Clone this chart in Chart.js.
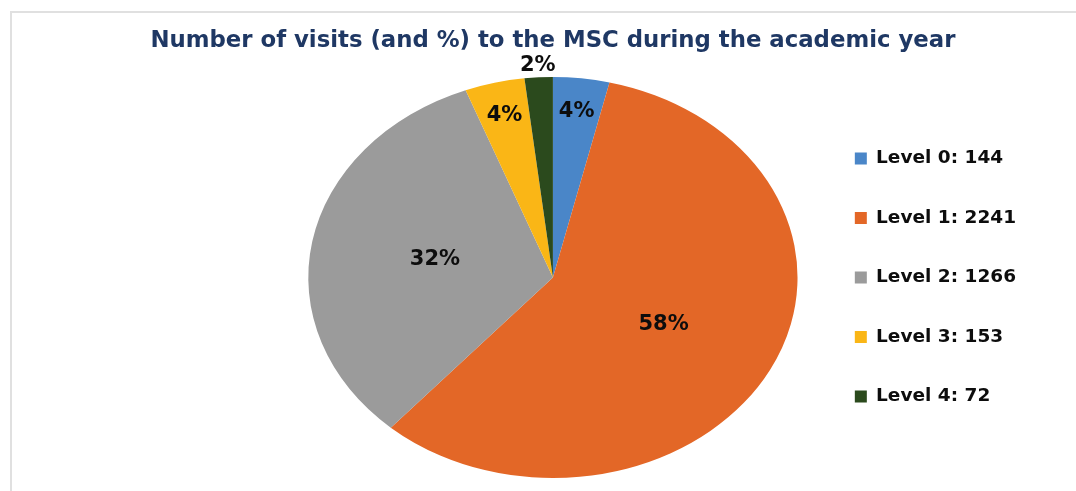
<!DOCTYPE html>
<html>
<head>
<meta charset="utf-8">
<title>MSC visits</title>
<script src="https://cdn.jsdelivr.net/npm/chart.js@4"></script>
<style>
    html, body { margin: 0; padding: 0; background: #fff; }
    .chart-wrap { position: relative; width: 1076px; height: 491px; overflow: hidden; }
    .chart-frame {
        position: absolute; left: 10px; top: 11px; right: -10px; bottom: -10px;
        border-top: 2px solid #e0e0e0; border-left: 2px solid #e0e0e0;
        pointer-events: none;
    }
    canvas { position: absolute; left: 0; top: 0; }
</style>
</head>
<body>
<div class="chart-wrap">
    <div class="chart-frame"></div>
    <canvas id="visitsChart" width="1076" height="491"></canvas>
</div>
<script>
// visits per level over the academic year
const levels = ['Level 0', 'Level 1', 'Level 2', 'Level 3', 'Level 4'];
const visits = [144, 2241, 1266, 153, 72];
const pctLabels = ['4%', '58%', '32%', '4%', '2%'];
const sliceColors = ['#4a86c8', '#e36727', '#9b9b9b', '#fab616', '#2b4a1d'];

(function() {
    'use strict';

    const FONT = "'DejaVu Sans', sans-serif";

    // pie is drawn as an oval, stretched sideways around its centre
    const ovalPie = {
        id: 'ovalPie',
        beforeDatasetsDraw(chart, args, opts) {
            const arc = chart.getDatasetMeta(0).data[0];
            const ctx = chart.ctx;
            ctx.save();
            ctx.translate(arc.x, arc.y);
            ctx.scale(opts.stretchX, 1);
            ctx.translate(-arc.x, -arc.y);
        },
        afterDatasetsDraw(chart) {
            chart.ctx.restore();
        }
    };

    // percentage text on (or just above) each slice
    const sliceLabels = {
        id: 'sliceLabels',
        afterDatasetsDraw(chart, args, opts) {
            const ctx = chart.ctx;
            const stretchX = chart.options.plugins.ovalPie.stretchX;
            ctx.save();
            ctx.font = 'bold ' + opts.size + 'px ' + FONT;
            ctx.fillStyle = opts.color;
            ctx.textAlign = 'center';
            ctx.textBaseline = 'middle';
            chart.getDatasetMeta(0).data.forEach(function(arc, i) {
                const mid = (arc.startAngle + arc.endAngle) / 2;
                const r = arc.outerRadius * opts.radius[i];
                const x = arc.x + Math.cos(mid) * r * stretchX;
                const y = arc.y + Math.sin(mid) * r;
                ctx.fillText(pctLabels[i], x, y);
            });
            ctx.restore();
        }
    };

    // heading centred over the pie rather than the whole canvas
    const pieTitle = {
        id: 'pieTitle',
        afterDraw(chart, args, opts) {
            const ctx = chart.ctx;
            const area = chart.chartArea;
            ctx.save();
            ctx.font = 'bold ' + opts.size + 'px ' + FONT;
            ctx.fillStyle = opts.color;
            ctx.textAlign = 'center';
            ctx.textBaseline = 'middle';
            ctx.fillText(opts.text, (area.left + area.right) / 2, opts.y);
            ctx.restore();
        }
    };

    function initVisitsChart() {
        const canvas = document.getElementById('visitsChart');
        if (!canvas || typeof Chart === 'undefined') return;

        new Chart(canvas.getContext('2d'), {
            type: 'pie',
            data: {
                labels: levels.map(function(l, i) { return l + ': ' + visits[i]; }),
                datasets: [{
                    data: visits,
                    backgroundColor: sliceColors,
                    borderWidth: 0,
                    hoverOffset: 0
                }]
            },
            plugins: [ovalPie, sliceLabels, pieTitle],
            options: {
                responsive: false,
                animation: false,
                layout: {
                    padding: { top: 77, bottom: 13, left: 292, right: 50 }
                },
                plugins: {
                    title: { display: false },
                    tooltip: { enabled: false },
                    legend: {
                        display: true,
                        position: 'right',
                        labels: {
                            color: '#0d0d0d',
                            boxWidth: 12,
                            boxHeight: 12,
                            padding: 41,
                            font: { family: FONT, size: 18.5, weight: 'bold' }
                        }
                    },
                    ovalPie: { stretchX: 1.22 },
                    sliceLabels: {
                        size: 21,
                        color: '#0d0d0d',
                        radius: [0.835, 0.51, 0.49, 0.83, 1.06]
                    },
                    pieTitle: {
                        text: 'Number of visits (and %) to the MSC during the academic year',
                        size: 22.8,
                        color: '#1f3864',
                        y: 41
                    }
                }
            }
        });
    }

    document.addEventListener('DOMContentLoaded', initVisitsChart);
})();
</script>
</body>
</html>
